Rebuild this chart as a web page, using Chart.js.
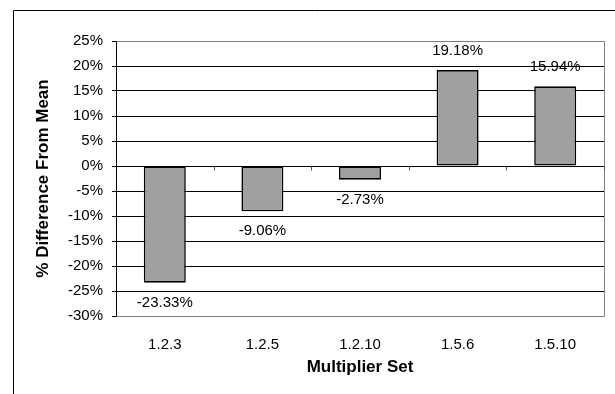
<!DOCTYPE html>
<html>
<head>
<meta charset="utf-8">
<script src="https://cdn.jsdelivr.net/npm/chart.js@4/dist/chart.umd.min.js"></script>
<style>
  html, body { margin: 0; padding: 0; background: #fff; }
  canvas { display: block; }
</style>
</head>
<body>
<canvas id="plot" width="615" height="394"></canvas>
<script>
const categories = ["1.2.3", "1.2.5", "1.2.10", "1.5.6", "1.5.10"];
const diffFromMean = [-23.33, -9.06, -2.73, 19.18, 15.94];
const yMin = -30;
const yMax = 25;
const yStep = 5;

const FONT = "'Liberation Sans', Arial, sans-serif";

// outer frame, plot border, zero-line ticks and value labels
const extras = {
    id: "extras",
    beforeDraw(chart) {
        const ctx = chart.ctx;
        ctx.save();
        ctx.strokeStyle = "#000";
        ctx.lineWidth = 1;
        ctx.beginPath();
        ctx.moveTo(13.5, 394);
        ctx.lineTo(13.5, 10.5);
        ctx.lineTo(615, 10.5);
        ctx.stroke();
        ctx.restore();
    },
    afterDatasetsDraw(chart) {
        const ctx = chart.ctx;
        const area = chart.chartArea;
        const x = chart.scales.x;
        const y = chart.scales.y;
        ctx.save();
        // gray plot border on top/right/bottom
        ctx.strokeStyle = "#808080";
        ctx.lineWidth = 1;
        ctx.beginPath();
        ctx.moveTo(Math.round(area.left) + 0.5, Math.round(area.top) + 0.5);
        ctx.lineTo(Math.round(area.right) + 0.5, Math.round(area.top) + 0.5);
        ctx.lineTo(Math.round(area.right) + 0.5, Math.round(area.bottom) + 0.5);
        ctx.lineTo(Math.round(area.left) + 0.5, Math.round(area.bottom) + 0.5);
        ctx.stroke();
        // category ticks hanging off the zero line
        const y0 = Math.round(y.getPixelForValue(0)) + 0.5;
        ctx.strokeStyle = "#555";
        ctx.beginPath();
        for (let i = 1; i <= categories.length; i++) {
            const px = Math.round(x.getPixelForValue(i - 0.5)) + 0.5;
            ctx.moveTo(px, y0);
            ctx.lineTo(px, y0 + 4);
        }
        ctx.stroke();
        // value labels
        ctx.fillStyle = "#000";
        ctx.font = "15px " + FONT;
        ctx.textAlign = "center";
        ctx.textBaseline = "middle";
        chart.getDatasetMeta(0).data.forEach((bar, i) => {
            const v = diffFromMean[i];
            const ly = v >= 0 ? bar.y - 19 : bar.y + 20;
            ctx.fillText(v.toFixed(2) + "%", bar.x, ly);
        });
        ctx.restore();
    }
};

new Chart(document.getElementById("plot"), {
    type: "bar",
    data: {
        labels: categories,
        datasets: [
            {
                data: diffFromMean,
                backgroundColor: "#a0a0a0",
                borderColor: "#000",
                borderWidth: 1.6,
                borderSkipped: false,
                categoryPercentage: 1,
                barPercentage: 0.43
            }
        ]
    },
    options: {
        responsive: false,
        animation: false,
        layout: {
            padding: { left: 0, top: 41, right: 11, bottom: 0 }
        },
        plugins: {
            legend: { display: false },
            tooltip: { enabled: false }
        },
        scales: {
            x: {
                grid: { display: false },
                border: { display: false },
                ticks: {
                    color: "#000",
                    font: { family: FONT, size: 15 },
                    padding: 12,
                    maxRotation: 0
                },
                title: {
                    display: true,
                    text: "Multiplier Set",
                    color: "#000",
                    font: { family: FONT, size: 17, weight: "bold" },
                    padding: { top: 0, bottom: 16 }
                },
                afterFit(scale) { scale.height = 78; }
            },
            y: {
                min: yMin,
                max: yMax,
                ticks: {
                    stepSize: yStep,
                    color: "#000",
                    font: { family: FONT, size: 15 },
                    padding: 9,
                    callback: v => v + "%"
                },
                grid: {
                    color: ctx => (ctx.tick && (ctx.tick.value === yMax || ctx.tick.value === yMin)) ? "#808080" : "#000",
                    tickColor: "#000",
                    tickLength: 4,
                    lineWidth: 1
                },
                border: { display: true, color: "#000", width: 1 },
                title: {
                    display: true,
                    text: "% Difference From Mean",
                    color: "#000",
                    font: { family: FONT, size: 17, weight: "bold" },
                    padding: { top: 33, bottom: 0 }
                },
                afterFit(scale) { scale.width = 116; }
            }
        }
    },
    plugins: [extras]
});
</script>
</body>
</html>
